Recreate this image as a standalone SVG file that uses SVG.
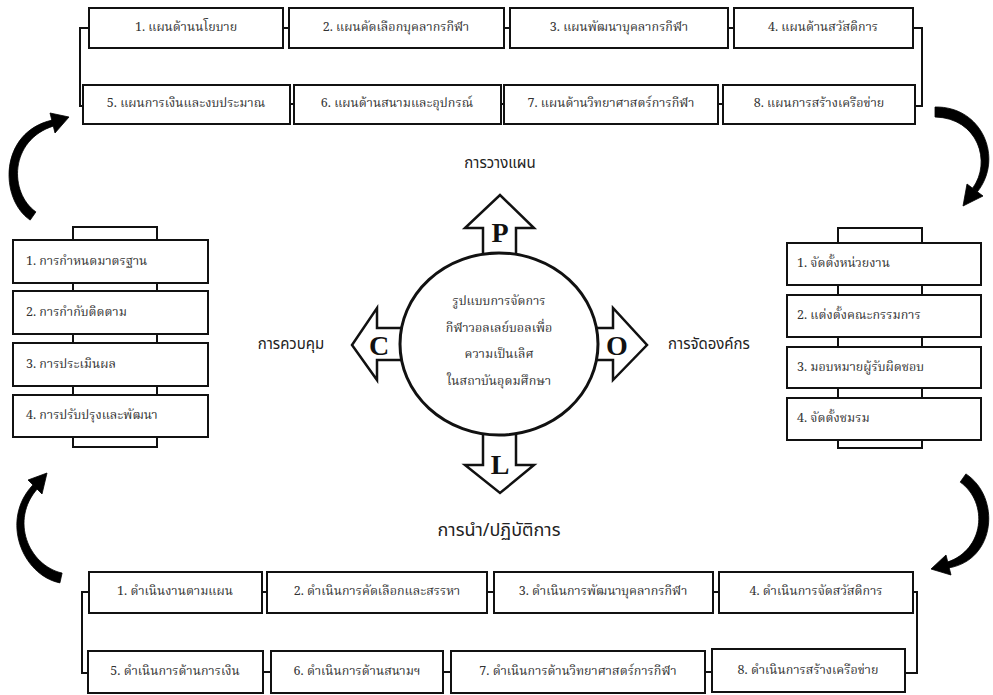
<svg xmlns="http://www.w3.org/2000/svg" width="993" height="695" viewBox="0 0 993 695">
<style>
.box{fill:#fff;stroke:#111;stroke-width:2}
.ln{fill:none;stroke:#111;stroke-width:2}
.t{font-family:"Noto Serif Thai","Noto Sans Thai","Noto Sans","DejaVu Sans",serif;font-size:12.5px;fill:#333;dominant-baseline:central}
.c{text-anchor:middle}
.lbl{font-family:"Noto Sans Thai","Noto Sans","DejaVu Sans",sans-serif;font-size:15px;fill:#222;text-anchor:middle;dominant-baseline:central}
.let{font-family:"Liberation Serif",serif;font-weight:bold;font-size:28px;fill:#111;text-anchor:middle}
.arc{fill:#000;stroke:#000;stroke-width:0.8;stroke-linejoin:round}
.bigarrow{fill:#fff;stroke:#111;stroke-width:2.5;stroke-linejoin:miter}
</style>
<rect width="993" height="695" fill="#fff"/>
<g id="connectors">
<path class="ln" d="M89 28H80V106H83M913 28H922V106H915M283 28H289M504 28H510M728 28H734M290 104H294M501 104H504M718 104H723"/>
<path class="ln" d="M89 592H82V673H88M913 592H917V673H905M262 592H267M487 592H494M713 592H719M263 672H271M443 672H451M705 672H712"/>
<path class="arc" d="M30.2 220.1C-1 199 -1 132 52.2 120.1L53.8 125.9C9 140 9 193 35.9 211.9Z"/>
<polygon class="arc" points="55,133 50,113 69,117"/>
<path class="arc" d="M935 107C982 106 1004 158 977.4 191.8L972.6 188.2C992 162 978 118 935 117Z"/>
<polygon class="arc" points="983,196 967,184 963,206"/>
<path class="arc" d="M59.9 582.9C22 575 0 520 32.8 485L37.2 489C10 520 28 565 62.1 573.1Z"/>
<polygon class="arc" points="42,494 28,480 47,473"/>
<path class="arc" d="M965.9 473.9C1001 497 996 560 948.7 567.9L947.3 562.1C984 550 989 503 960.2 482.1Z"/>
<polygon class="arc" points="951,575 946,555 931,569"/>
</g>
<g id="plan-row1">
<g id="p1"><rect class="box" x="89" y="8" width="194" height="40"/><text class="t c" x="186" y="28">1. แผนด้านนโยบาย</text></g>
<g id="p2"><rect class="box" x="289" y="8" width="215" height="40"/><text class="t c" x="396" y="28">2. แผนคัดเลือกบุคลากรกีฬา</text></g>
<g id="p3"><rect class="box" x="510" y="8" width="218" height="40"/><text class="t c" x="619" y="28">3. แผนพัฒนาบุคลากรกีฬา</text></g>
<g id="p4"><rect class="box" x="734" y="8" width="179" height="40"/><text class="t c" x="823" y="28">4. แผนด้านสวัสดิการ</text></g>
</g>
<g id="plan-row2">
<g id="p5"><rect class="box" x="83" y="85" width="207" height="39"/><text class="t c" x="186" y="104">5. แผนการเงินและงบประมาณ</text></g>
<g id="p6"><rect class="box" x="294" y="85" width="207" height="39"/><text class="t c" x="397" y="104">6. แผนด้านสนามและอุปกรณ์</text></g>
<g id="p7"><rect class="box" x="504" y="85" width="214" height="39"/><text class="t c" x="611" y="104">7. แผนด้านวิทยาศาสตร์การกีฬา</text></g>
<g id="p8"><rect class="box" x="723" y="85" width="192" height="39"/><text class="t c" x="819" y="104">8. แผนการสร้างเครือข่าย</text></g>
</g>
<g id="control">
<rect class="box" x="73" y="227" width="84" height="220"/>
<g id="c1"><rect class="box" x="13" y="240" width="195" height="43"/><text class="t" x="26" y="262">1. การกำหนดมาตรฐาน</text></g>
<g id="c2"><rect class="box" x="13" y="291" width="195" height="43"/><text class="t" x="26" y="313">2. การกำกับติดตาม</text></g>
<g id="c3"><rect class="box" x="13" y="343" width="195" height="43"/><text class="t" x="26" y="365">3. การประเมินผล</text></g>
<g id="c4"><rect class="box" x="13" y="395" width="195" height="42"/><text class="t" x="26" y="416">4. การปรับปรุงและพัฒนา</text></g>
</g>
<g id="organize">
<rect class="box" x="838" y="228" width="84" height="220"/>
<g id="o1"><rect class="box" x="787" y="243" width="194" height="42"/><text class="t" x="797" y="264">1. จัดตั้งหน่วยงาน</text></g>
<g id="o2"><rect class="box" x="787" y="295" width="194" height="42"/><text class="t" x="797" y="316">2. แต่งตั้งคณะกรรมการ</text></g>
<g id="o3"><rect class="box" x="787" y="347" width="194" height="41"/><text class="t" x="797" y="368">3. มอบหมายผู้รับผิดชอบ</text></g>
<g id="o4"><rect class="box" x="787" y="398" width="194" height="42"/><text class="t" x="797" y="419">4. จัดตั้งชมรม</text></g>
</g>
<g id="lead-row1">
<g id="l1"><rect class="box" x="89" y="572" width="173" height="41"/><text class="t c" x="175" y="592">1. ดำเนินงานตามแผน</text></g>
<g id="l2"><rect class="box" x="267" y="572" width="220" height="41"/><text class="t c" x="377" y="592">2. ดำเนินการคัดเลือกและสรรหา</text></g>
<g id="l3"><rect class="box" x="494" y="572" width="219" height="41"/><text class="t c" x="603" y="592">3. ดำเนินการพัฒนาบุคลากรกีฬา</text></g>
<g id="l4"><rect class="box" x="719" y="572" width="194" height="41"/><text class="t c" x="816" y="592">4. ดำเนินการจัดสวัสดิการ</text></g>
</g>
<g id="lead-row2">
<g id="l5"><rect class="box" x="88" y="651" width="175" height="42"/><text class="t c" x="175" y="672">5. ดำเนินการด้านการเงิน</text></g>
<g id="l6"><rect class="box" x="271" y="651" width="172" height="42"/><text class="t c" x="357" y="672">6. ดำเนินการด้านสนามฯ</text></g>
<g id="l7"><rect class="box" x="451" y="651" width="254" height="42"/><text class="t c" x="578" y="672">7. ดำเนินการด้านวิทยาศาสตร์การกีฬา</text></g>
<g id="l8"><rect class="box" x="712" y="649" width="193" height="43"/><text class="t c" x="808" y="671">8. ดำเนินการสร้างเครือข่าย</text></g>
</g>
<g id="hub">
<polygon class="bigarrow" points="483,256 483,228 465,228 500,195 534,228 516,228 516,256"/>
<polygon class="bigarrow" points="402,328 377,328 377,308 352,345 377,380 377,360 402,360"/>
<polygon class="bigarrow" points="596,328 613,328 613,308 647,345 613,380 613,360 596,360"/>
<polygon class="bigarrow" points="483,433 483,465 465,465 500,493 534,465 516,465 516,433"/>
<ellipse class="box" cx="499" cy="344" rx="99" ry="91" style="stroke-width:3"/>
<text class="let" x="500" y="242">P</text>
<text class="let" x="379" y="355">C</text>
<text class="let" x="617" y="355">O</text>
<text class="let" x="500" y="474">L</text>
<text class="t c" x="499" y="302">รูปแบบการจัดการ</text>
<text class="t c" x="499" y="329">กีฬาวอลเลย์บอลเพื่อ</text>
<text class="t c" x="499" y="355">ความเป็นเลิศ</text>
<text class="t c" x="499" y="382">ในสถาบันอุดมศึกษา</text>
</g>
<g id="labels">
<text class="lbl" x="500" y="163">การวางแผน</text>
<text class="lbl" x="291" y="344">การควบคุม</text>
<text class="lbl" x="709" y="344">การจัดองค์กร</text>
<text class="lbl" x="499" y="530" style="font-size:18px">การนำ/ปฏิบัติการ</text>
</g>
</svg>
